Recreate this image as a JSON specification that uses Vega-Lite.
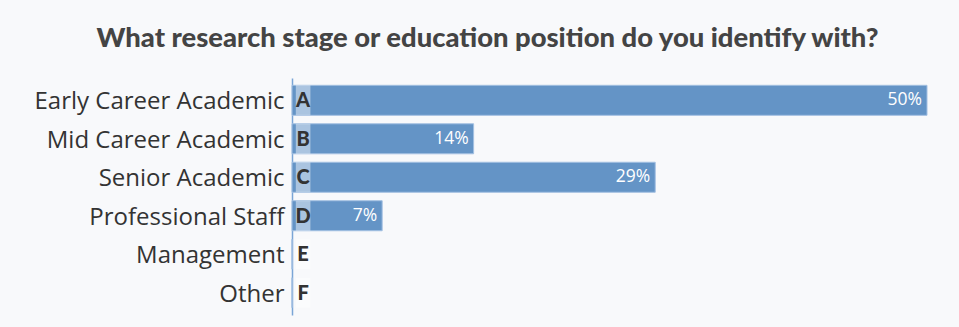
{
  "$schema": "https://vega.github.io/schema/vega-lite/v6.json",
  "autosize": {"type": "none"},
  "padding": {"left": 292, "top": 78, "right": 32, "bottom": 12},
  "width": 635,
  "height": 237,
  "background": "#f8f9fb",
  "title": {
    "text": "What research stage or education position do you identify with?",
    "font": "Lato",
    "fontWeight": 900,
    "fontSize": 27.4,
    "color": "#444444",
    "anchor": "middle",
    "dx": -122,
    "offset": 26
  },
  "config": {"view": {"stroke": null}},
  "data": {
    "values": [
      {"label": "Early Career Academic", "letter": "A", "pct": 50.0, "text": "50%"},
      {"label": "Mid Career Academic", "letter": "B", "pct": 14.3, "text": "14%"},
      {"label": "Senior Academic", "letter": "C", "pct": 28.6, "text": "29%"},
      {"label": "Professional Staff", "letter": "D", "pct": 7.1, "text": "7%"},
      {"label": "Management", "letter": "E", "pct": 0, "text": ""},
      {"label": "Other", "letter": "F", "pct": 0, "text": ""}
    ]
  },
  "encoding": {
    "y": {
      "field": "label",
      "type": "nominal",
      "sort": null,
      "title": null,
      "scale": {"paddingInner": 0.22, "paddingOuter": 0.19},
      "axis": {
        "ticks": false,
        "labelFont": "Open Sans",
        "labelFontSize": 24,
        "labelColor": "#333333",
        "labelPadding": 8,
        "labelOffset": 2,
        "labelLimit": 300,
        "domainColor": "#7aa5d6",
        "domainWidth": 1.5
      }
    }
  },
  "layer": [
    {
      "mark": {"type": "bar", "color": "#6494c6", "stroke": "#a3c0e2", "strokeWidth": 1},
      "encoding": {
        "x": {"field": "pct", "type": "quantitative", "scale": {"domain": [0, 50]}, "axis": null}
      }
    },
    {
      "mark": {"type": "bar", "color": "#ffffff", "opacity": 0.45},
      "encoding": {
        "x": {"datum": 0.3, "type": "quantitative"},
        "x2": {"datum": 1.45}
      }
    },
    {
      "mark": {"type": "text", "align": "center", "font": "Lato", "fontWeight": 900, "fontSize": 20, "color": "#333333", "baseline": "middle", "dy": 1},
      "encoding": {
        "x": {"datum": 0.87, "type": "quantitative"},
        "text": {"field": "letter"}
      }
    },
    {
      "mark": {"type": "text", "align": "right", "dx": -5, "font": "Open Sans", "fontSize": 17.5, "color": "#ffffff", "baseline": "middle"},
      "encoding": {
        "x": {"field": "pct", "type": "quantitative"},
        "text": {"field": "text"}
      }
    }
  ]
}
